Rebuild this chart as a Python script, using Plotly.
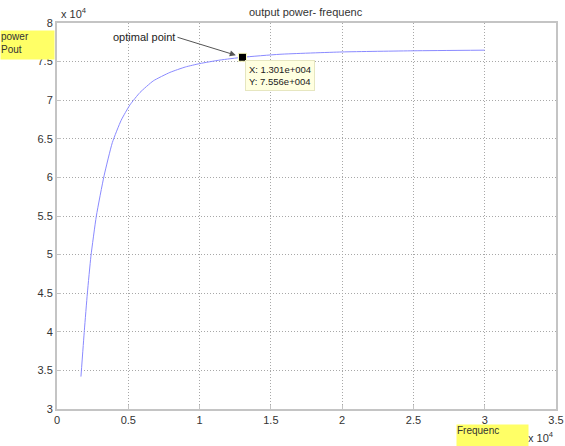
import plotly.graph_objects as go

# Values in units of 1e4 (as shown on the axes)
freq = [0.168, 0.192, 0.213, 0.238, 0.276, 0.33, 0.388, 0.45, 0.512, 0.582,
        0.675, 0.792, 0.9, 1.003, 1.143, 1.301, 1.564, 2.0, 2.5, 3.0]
pout = [3.42, 4.02, 4.50, 4.98, 5.50, 6.02, 6.45, 6.74, 6.94, 7.10,
        7.25, 7.36, 7.43, 7.475, 7.52, 7.556, 7.595, 7.625, 7.64, 7.648]
opt_x = [1.301]
opt_y = [7.556]
x_ticks = [0, 0.5, 1, 1.5, 2, 2.5, 3, 3.5]
y_ticks = [3, 3.5, 4, 4.5, 5, 5.5, 6, 6.5, 7, 7.5, 8]

font = "Liberation Sans, Arial, sans-serif"
W, H = 565, 446
ML, MR, MT, MB = 57, 9, 23, 37
pw, ph = W - ML - MR, H - MT - MB


def px(x):
    return (x - ML) / pw


def py(y):
    return (H - y - MB) / ph


fig = go.Figure()
fig.add_trace(go.Scatter(x=freq, y=pout, mode="lines",
                         line=dict(color="#8a8aff", width=1, shape="spline", smoothing=0.5),
                         hoverinfo="skip"))
fig.add_trace(go.Scatter(x=opt_x, y=opt_y, mode="markers",
                         marker=dict(symbol="square", size=8, color="black", line=dict(color="#ffffc0", width=1)),
                         hoverinfo="skip"))

axis_common = dict(showline=True, mirror=True, linecolor="#c4c4c4", linewidth=2,
                   showgrid=True, gridcolor="#a8a8a8", griddash="1px,2px", gridwidth=1,
                   zeroline=False, ticks="inside", ticklen=4, tickcolor="#c4c4c4",
                   automargin=False,
                   tickfont=dict(family=font, size=11, color="#333333"))

fig.update_layout(
    width=W, height=H,
    margin=dict(l=ML, r=MR, t=MT, b=MB),
    paper_bgcolor="white", plot_bgcolor="white",
    showlegend=False,
    xaxis=dict(range=[0, 3.5], tickvals=x_ticks, ticktext=[f"{v:g}" for v in x_ticks], **axis_common),
    yaxis=dict(range=[3, 8], tickvals=y_ticks, ticktext=[f"{v:g}" for v in y_ticks], **axis_common),
)

fig.add_annotation(text="output power- frequenc", x=px(306), y=py(12), xref="paper", yref="paper",
                   xanchor="center", yanchor="middle", showarrow=False,
                   font=dict(family=font, size=11, color="#333333"))
fig.add_annotation(text="x 10<sup>4</sup>", x=0, y=1, xref="paper", yref="paper", xanchor="left", yanchor="bottom",
                   xshift=2, yshift=1, showarrow=False, font=dict(family=font, size=11, color="#333333"))
fig.add_annotation(text="x 10<sup>4</sup>", x=px(556), y=py(428), xref="paper", yref="paper",
                   xanchor="right", yanchor="top", showarrow=False,
                   font=dict(family=font, size=11, color="#333333"))
fig.add_annotation(text="power<br>Pout", xref="paper", yref="paper", x=px(0), y=py(30),
                   xanchor="left", yanchor="top", align="left", valign="top",
                   bgcolor="#ffff66", width=53, height=28, borderpad=0, showarrow=False,
                   font=dict(family=font, size=10, color="#333333"))
fig.add_annotation(text="Frequenc", xref="paper", yref="paper", x=px(456), y=py(424),
                   xanchor="left", yanchor="top", showarrow=False, align="left", valign="top",
                   bgcolor="#ffff66", width=71, height=22, borderpad=0,
                   font=dict(family=font, size=10, color="#333333"))
fig.add_annotation(text="optimal point", x=1.301, y=7.556, xref="x", yref="y",
                   ax=-65, ay=-20, axref="pixel", ayref="pixel",
                   showarrow=True, arrowhead=2, arrowsize=1.2, arrowwidth=1, arrowcolor="#555555",
                   standoff=7, xanchor="right",
                   font=dict(family=font, size=11, color="#222222"))
fig.add_annotation(text="X: 1.301e+004<br>Y: 7.556e+004", x=1.301, y=7.556, xref="x", yref="y",
                   xanchor="left", yanchor="top", xshift=3, yshift=-3, showarrow=False, align="left",
                   bgcolor="#ffffe0", bordercolor="#e6e6c0", borderwidth=1, borderpad=3,
                   font=dict(family=font, size=9.5, color="#222222"))

fig.write_html("out.html", config={"displayModeBar": False},
               post_script="document.body.style.margin='0';document.body.style.overflow='hidden';")
